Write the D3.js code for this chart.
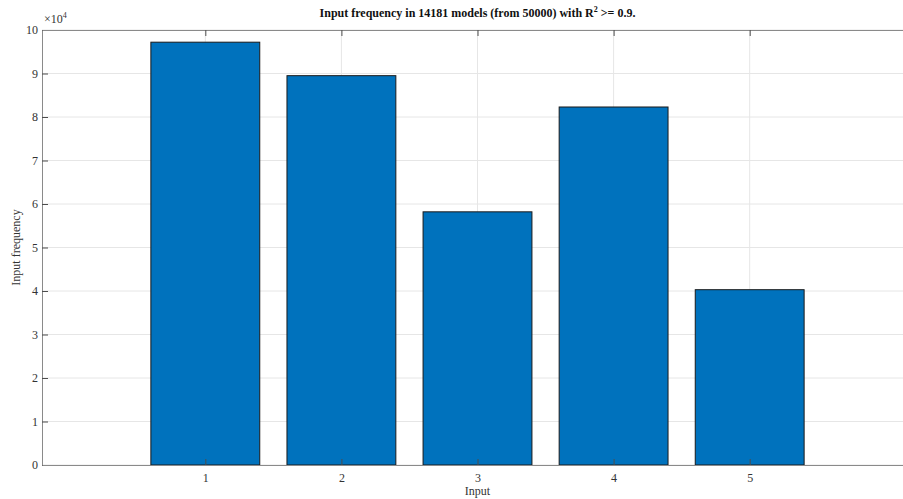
<!DOCTYPE html>
<html>
<head>
  <title>Input frequency</title>
  <script src="https://d3js.org/d3.v7.min.js"></script>
</head>
<body style="margin:0;background:#fff;">
  <svg id="chart"></svg>
  <script>
    var inputs = [1, 2, 3, 4, 5];
    var frequency = [97200, 89500, 58200, 82300, 40300];
    var yTicks = [0, 1, 2, 3, 4, 5, 6, 7, 8, 9, 10];

    var width = 903, height = 499;
    var margin = { top: 30, right: -10, bottom: 34, left: 42 };
    var innerWidth = width - margin.left - margin.right;
    var innerHeight = height - margin.top - margin.bottom;
    var font = "'Liberation Serif', 'Times New Roman', serif";

    var svg = d3.select("#chart")
      .attr("width", width)
      .attr("height", height)
      .style("display", "block");

    var chart = svg.append("g")
      .attr("transform", "translate(" + margin.left + "," + margin.top + ")");

    var x = d3.scaleLinear().domain([-0.2, 6.2]).range([0, innerWidth]);
    var y = d3.scaleLinear().domain([0, 100000]).range([innerHeight, 0]);
    var barW = x(0.8) - x(0);

    // grid
    chart.append("g")
      .selectAll("line")
      .data(yTicks)
      .enter().append("line")
      .attr("x1", 0).attr("x2", innerWidth)
      .attr("y1", d => y(d * 10000)).attr("y2", d => y(d * 10000))
      .attr("stroke", "#e6e6e6").attr("stroke-width", 1);
    chart.append("g")
      .selectAll("line")
      .data(inputs)
      .enter().append("line")
      .attr("y1", 0).attr("y2", innerHeight)
      .attr("x1", d => x(d)).attr("x2", d => x(d))
      .attr("stroke", "#e6e6e6").attr("stroke-width", 1);

    // bars
    chart.selectAll(".bar")
      .data(frequency)
      .enter().append("rect")
      .attr("class", "bar")
      .attr("x", (d, i) => x(inputs[i]) - barW / 2)
      .attr("y", d => y(d))
      .attr("width", barW)
      .attr("height", d => innerHeight - y(d))
      .attr("fill", "#0072BD")
      .attr("stroke", "#1a1a1a")
      .attr("stroke-width", 1);

    // axes
    var yAxis = chart.append("g")
      .call(d3.axisLeft(y).tickValues(yTicks.map(d => d * 10000))
        .tickFormat(d => d / 10000).tickSizeInner(-6).tickSizeOuter(0).tickPadding(4));
    var xAxis = chart.append("g")
      .attr("transform", "translate(0," + innerHeight + ")")
      .call(d3.axisBottom(x).tickValues(inputs).tickFormat(d3.format("d"))
        .tickSizeInner(-6).tickSizeOuter(0).tickPadding(8));
    var xTop = chart.append("g")
      .call(d3.axisTop(x).tickValues(inputs).tickFormat("")
        .tickSizeInner(-6).tickSizeOuter(0));
    xTop.selectAll("text").remove();

    [yAxis, xAxis, xTop].forEach(function(a) {
      a.select(".domain").attr("stroke", "#8a8a8a");
      a.selectAll(".tick line").attr("stroke", "#4d4d4d");
      a.selectAll("text")
        .style("font-family", font)
        .style("font-size", "12px")
        .attr("fill", "#333");
    });

    // exponent
    var ex = svg.append("text")
      .attr("x", margin.left + 2)
      .attr("y", margin.top - 7)
      .style("font-family", font)
      .style("font-size", "12px")
      .attr("fill", "#333");
    ex.append("tspan").text("\u00d710");
    ex.append("tspan").attr("dy", -5).style("font-size", "8px").text("4");

    // title
    var title = svg.append("text")
      .attr("x", margin.left + innerWidth / 2)
      .attr("y", 17)
      .attr("text-anchor", "middle")
      .style("font-family", font)
      .style("font-size", "12px")
      .style("font-weight", "bold")
      .attr("fill", "#111");
    title.append("tspan").text("Input frequency in 14181 models (from 50000) with R");
    title.append("tspan").attr("dy", -5).style("font-size", "8px").text("2");
    title.append("tspan").attr("dy", 5).text(" >= 0.9.");

    // axis labels
    svg.append("text")
      .attr("x", margin.left + x(3))
      .attr("y", 495)
      .attr("text-anchor", "middle")
      .style("font-family", font)
      .style("font-size", "12px")
      .attr("fill", "#333")
      .text("Input");

    svg.append("text")
      .attr("transform", "translate(20," + (margin.top + innerHeight / 2) + ") rotate(-90)")
      .attr("text-anchor", "middle")
      .style("font-family", font)
      .style("font-size", "12px")
      .attr("fill", "#333")
      .text("Input frequency");
  </script>
</body>
</html>
